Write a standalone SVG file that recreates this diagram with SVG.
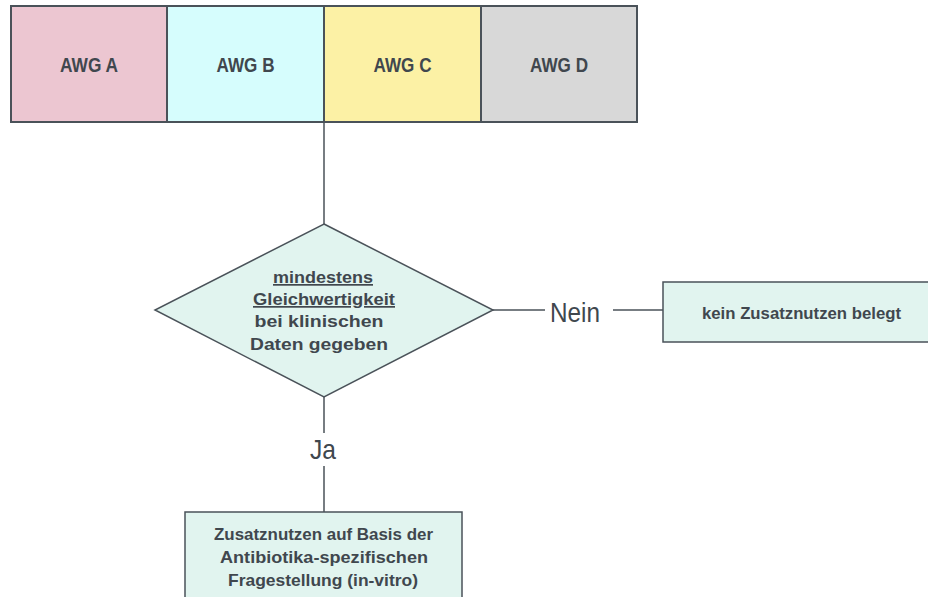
<svg xmlns="http://www.w3.org/2000/svg" width="928" height="597" viewBox="0 0 928 597">
<style>
.box{stroke:#4a5259;stroke-width:2}
.nd{fill:#e1f4ef;stroke:#4a5259;stroke-width:1.5}
.t{font-family:"Liberation Sans",Arial,sans-serif;font-weight:bold;fill:#40474e;text-anchor:middle}
.l{font-family:"Liberation Sans",Arial,sans-serif;fill:#40474e;text-anchor:middle}
.c{stroke:#4a5259;stroke-width:1.5;fill:none}
</style>
<rect width="928" height="597" fill="#ffffff"/>
<g id="awgA"><rect class="box" x="11" y="6" width="156" height="116" fill="#ecc6d1"/><text class="t" x="89" y="72" font-size="20" textLength="58" lengthAdjust="spacingAndGlyphs">AWG A</text></g>
<g id="awgB"><rect class="box" x="167" y="6" width="157" height="116" fill="#d6fdfd"/><text class="t" x="245.5" y="72" font-size="20" textLength="58" lengthAdjust="spacingAndGlyphs">AWG B</text></g>
<g id="awgC"><rect class="box" x="324" y="6" width="157" height="116" fill="#fcf1a5"/><text class="t" x="402.5" y="72" font-size="20" textLength="58" lengthAdjust="spacingAndGlyphs">AWG C</text></g>
<g id="awgD"><rect class="box" x="481" y="6" width="156" height="116" fill="#d8d8d8"/><text class="t" x="559" y="72" font-size="20" textLength="58" lengthAdjust="spacingAndGlyphs">AWG D</text></g>
<g id="connectors">
<line class="c" x1="324" y1="122" x2="324" y2="224"/>
<line class="c" x1="493" y1="310" x2="545" y2="310"/>
<line class="c" x1="613" y1="310" x2="663" y2="310"/>
<line class="c" x1="324" y1="397" x2="324" y2="433"/>
<line class="c" x1="324" y1="466" x2="324" y2="512"/>
<text class="l" x="575" y="322" font-size="28" textLength="50" lengthAdjust="spacingAndGlyphs">Nein</text>
<text class="l" x="323" y="459" font-size="28" textLength="26" lengthAdjust="spacingAndGlyphs">Ja</text>
</g>
<g id="decision">
<polygon class="nd" points="324,224 493,310 324,397 155,310"/>
<text class="t" x="323" y="283" font-size="17" textLength="100" lengthAdjust="spacingAndGlyphs" text-decoration="underline">mindestens</text>
<text class="t" x="324" y="305" font-size="17" textLength="142" lengthAdjust="spacingAndGlyphs" text-decoration="underline">Gleichwertigkeit</text>
<text class="t" x="319" y="327" font-size="17" textLength="129" lengthAdjust="spacingAndGlyphs">bei klinischen</text>
<text class="t" x="319" y="350" font-size="17" textLength="138" lengthAdjust="spacingAndGlyphs">Daten gegeben</text>
</g>
<g id="nein">
<rect class="nd" x="663" y="282" width="276" height="60"/>
<text class="t" x="801.5" y="319" font-size="16" textLength="199" lengthAdjust="spacingAndGlyphs">kein Zusatznutzen belegt</text>
</g>
<g id="ja">
<rect class="nd" x="185" y="512" width="277" height="100"/>
<text class="t" x="323.5" y="540" font-size="17" textLength="219" lengthAdjust="spacingAndGlyphs">Zusatznutzen auf Basis der</text>
<text class="t" x="324" y="563" font-size="17" textLength="208" lengthAdjust="spacingAndGlyphs">Antibiotika-spezifischen</text>
<text class="t" x="323" y="586" font-size="17" textLength="190" lengthAdjust="spacingAndGlyphs">Fragestellung (in-vitro)</text>
</g>
</svg>
